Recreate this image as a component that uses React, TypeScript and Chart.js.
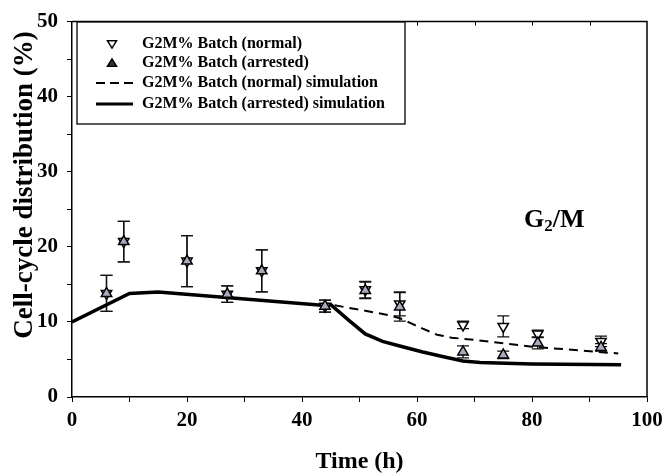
import React, { useEffect, useRef } from 'react';
import { Chart, registerables } from 'chart.js';
Chart.register(...registerables);

const times = [6, 9, 20, 27, 33, 44, 51, 57, 68, 75, 81, 92];
const normalMean = [13.8, 20.7, 18.1, 13.7, 16.8, 12.1, 14.3, 12.4, 9.6, 9.4, 8.4, 7.4];
const normalErr = [2.4, 2.7, 3.4, 1.1, 2.8, 0.8, 1.1, 1.6, 0.5, 1.4, 0.5, 0.7];
const arrestedMean = [13.8, 20.7, 18.1, 13.7, 16.8, 12.1, 14.2, 12.0, 6.0, 5.6, 7.2, 6.6];
const arrestedErr = [2.4, 2.7, 3.4, 1.1, 2.8, 0.8, 1.1, 1.9, 0.8, 0.5, 0.8, 0.5];

const simNormalT = [0, 10, 15, 44, 45, 51, 55, 57, 59, 61, 63.5, 66, 70, 80, 95];
const simNormalV = [10, 13.8, 14.0, 12.2, 12.3, 11.5, 10.9, 10.5, 9.8, 9.1, 8.3, 7.9, 7.6, 6.7, 5.8];
const simArrestedT = [0, 10, 15, 44, 45, 48, 51, 54, 57, 61, 65, 68, 71, 80, 95.5];
const simArrestedV = [10, 13.8, 14.0, 12.2, 12.3, 10.3, 8.4, 7.4, 6.8, 6.0, 5.3, 4.8, 4.6, 4.4, 4.3];

const xTickLabels = [0, 20, 40, 60, 80, 100];
const yTickLabels = [0, 10, 20, 30, 40, 50];
const legendLabels = [
  'G2M% Batch (normal)',
  'G2M% Batch (arrested)',
  'G2M% Batch (normal) simulation',
  'G2M% Batch (arrested) simulation',
];
const yTitle = 'Cell-cycle distribution (%)';

const FONT = "'Liberation Serif', 'Times New Roman', serif";
const ARRESTED_FILL = '#a7abbd';

const errorBarPlugin = {
  id: 'errorBars',
  beforeDatasetsDraw(chart: any) {
    const { ctx, scales } = chart;
    const x = scales.x;
    const y = scales.y;
    ctx.save();
    ctx.strokeStyle = '#111';
    ctx.lineWidth = 1.3;
    const draw = (means: number[], errs: number[]) => {
      times.forEach((t, i) => {
        const px = x.getPixelForValue(t);
        const top = y.getPixelForValue(means[i] + errs[i]);
        const bot = y.getPixelForValue(means[i] - errs[i]);
        ctx.beginPath();
        ctx.moveTo(px, top);
        ctx.lineTo(px, bot);
        ctx.moveTo(px - 6, top);
        ctx.lineTo(px + 6, top);
        ctx.moveTo(px - 6, bot);
        ctx.lineTo(px + 6, bot);
        ctx.stroke();
      });
    };
    draw(normalMean, normalErr);
    draw(arrestedMean, arrestedErr);
    ctx.restore();
  },
};

const framePlugin = {
  id: 'frame',
  afterDraw(chart: any) {
    const { ctx, chartArea, scales } = chart;
    ctx.save();
    ctx.strokeStyle = '#000';
    ctx.lineWidth = 1.5;
    ctx.beginPath();
    ctx.moveTo(chartArea.left, chartArea.top);
    ctx.lineTo(chartArea.right, chartArea.top);
    ctx.lineTo(chartArea.right, chartArea.bottom);
    ctx.stroke();
    ctx.lineWidth = 1;
    ctx.beginPath();
    for (let v = 10; v < 100; v += 10) {
      const px = Math.round(scales.x.getPixelForValue(v)) + 0.5;
      ctx.moveTo(px, chartArea.top);
      ctx.lineTo(px, chartArea.top + 4);
    }
    ctx.stroke();

    // y-axis title
    ctx.save();
    ctx.translate(25, 185);
    ctx.rotate(-Math.PI / 2);
    ctx.fillStyle = '#000';
    ctx.font = `bold 27px ${FONT}`;
    ctx.textAlign = 'center';
    ctx.textBaseline = 'middle';
    ctx.fillText(yTitle, 0, 0);
    ctx.restore();

    // G2/M annotation
    ctx.fillStyle = '#000';
    ctx.textBaseline = 'alphabetic';
    ctx.textAlign = 'left';
    let tx = 524;
    const ty = 227;
    ctx.font = `bold 26px ${FONT}`;
    ctx.fillText('G', tx, ty);
    tx += ctx.measureText('G').width;
    ctx.font = `bold 17px ${FONT}`;
    ctx.fillText('2', tx, ty + 4);
    tx += ctx.measureText('2').width;
    ctx.font = `bold 26px ${FONT}`;
    ctx.fillText('/M', tx, ty);

    // legend
    const bx = 77, by = 22, bw = 328, bh = 102;
    ctx.fillStyle = '#fff';
    ctx.fillRect(bx, by, bw, bh);
    ctx.strokeStyle = '#000';
    ctx.lineWidth = 1.3;
    ctx.strokeRect(bx, by, bw, bh);
    const rows = [44, 63, 83, 104];
    const symX = 112;
    ctx.font = `bold 16px ${FONT}`;
    ctx.textBaseline = 'middle';
    chart.data.datasets.forEach((ds: any, i: number) => {
      const ry = rows[i];
      ctx.strokeStyle = '#000';
      if (i === 0 || i === 1) {
        const r = 4.5;
        ctx.beginPath();
        if (i === 0) {
          ctx.moveTo(symX - r, ry - r * 0.7);
          ctx.lineTo(symX + r, ry - r * 0.7);
          ctx.lineTo(symX, ry + r * 0.9);
        } else {
          ctx.moveTo(symX - r, ry + r * 0.7);
          ctx.lineTo(symX + r, ry + r * 0.7);
          ctx.lineTo(symX, ry - r * 0.9);
        }
        ctx.closePath();
        ctx.fillStyle = i === 0 ? '#fff' : '#333';
        ctx.fill();
        ctx.lineWidth = 1.5;
        ctx.stroke();
      } else {
        ctx.beginPath();
        ctx.lineWidth = i === 2 ? 1.8 : 3;
        ctx.setLineDash(i === 2 ? [9, 5] : []);
        ctx.moveTo(96, ry);
        ctx.lineTo(133, ry);
        ctx.stroke();
        ctx.setLineDash([]);
      }
      ctx.fillStyle = '#000';
      ctx.fillText(legendLabels[i], 142, ry);
    });
    ctx.restore();
  },
};

export default function App() {
  const ref = useRef<HTMLCanvasElement | null>(null);
  useEffect(() => {
    if (!ref.current) return;
    const chart = new Chart(ref.current, {
      type: 'scatter',
      data: {
        datasets: [
          {
            label: legendLabels[0],
            data: times.map((t, i) => ({ x: t, y: normalMean[i] })),
            pointStyle: 'triangle',
            rotation: 180,
            radius: 6,
            backgroundColor: '#fff',
            borderColor: '#000',
            borderWidth: 1.5,
            showLine: false,
            order: 2,
          },
          {
            label: legendLabels[1],
            data: times.map((t, i) => ({ x: t, y: arrestedMean[i] })),
            pointStyle: 'triangle',
            radius: 6,
            backgroundColor: ARRESTED_FILL,
            borderColor: '#000',
            borderWidth: 1.5,
            showLine: false,
            order: 1,
          },
          {
            label: legendLabels[2],
            data: simNormalT.map((t, i) => ({ x: t, y: simNormalV[i] })),
            showLine: true,
            borderColor: '#000',
            borderWidth: 2,
            borderDash: [9, 6],
            pointRadius: 0,
            fill: false,
            order: 4,
          },
          {
            label: legendLabels[3],
            data: simArrestedT.map((t, i) => ({ x: t, y: simArrestedV[i] })),
            showLine: true,
            borderColor: '#000',
            borderWidth: 3.5,
            pointRadius: 0,
            fill: false,
            order: 3,
          },
        ],
      },
      options: {
        responsive: false,
        animation: false,
        layout: { padding: { top: 16, right: 23, left: 0, bottom: 0 } },
        plugins: { legend: { display: false }, tooltip: { enabled: false } },
        scales: {
          x: {
            type: 'linear',
            min: 0,
            max: 100,
            afterFit: (s: any) => { s.height = 79; },
            ticks: {
              stepSize: 10,
              autoSkip: false,
              maxRotation: 0,
              color: '#000',
              padding: 6,
              font: { family: FONT, size: 21, weight: 'bold' },
              callback: (v: any) => (xTickLabels.includes(Number(v)) ? String(v) : ''),
            },
            grid: { display: true, drawOnChartArea: false, drawTicks: true, tickLength: 5, color: '#000' },
            border: { display: true, color: '#000', width: 1.5 },
            title: {
              display: true,
              text: 'Time (h)',
              color: '#000',
              font: { family: FONT, size: 24, weight: 'bold', lineHeight: 1.2 },
              padding: { top: 0, bottom: 0 },
            },
          },
          y: {
            type: 'linear',
            min: 0,
            max: 50,
            afterFit: (s: any) => { s.width = 72; },
            ticks: {
              stepSize: 5,
              autoSkip: false,
              color: '#000',
              padding: 9,
              font: { family: FONT, size: 21, weight: 'bold' },
              callback: (v: any) => (yTickLabels.includes(Number(v)) ? String(v) : ''),
            },
            grid: { display: true, drawOnChartArea: false, drawTicks: true, tickLength: 5, color: '#000' },
            border: { display: true, color: '#000', width: 1.5 },
            title: { display: false },
          },
        },
      },
      plugins: [errorBarPlugin, framePlugin],
    });
    return () => chart.destroy();
  }, []);
  return (
    <div style={{ position: 'absolute', left: 0, top: 0, width: 670, height: 476, background: '#fff' }}>
      <canvas ref={ref} width={670} height={476} />
    </div>
  );
}
